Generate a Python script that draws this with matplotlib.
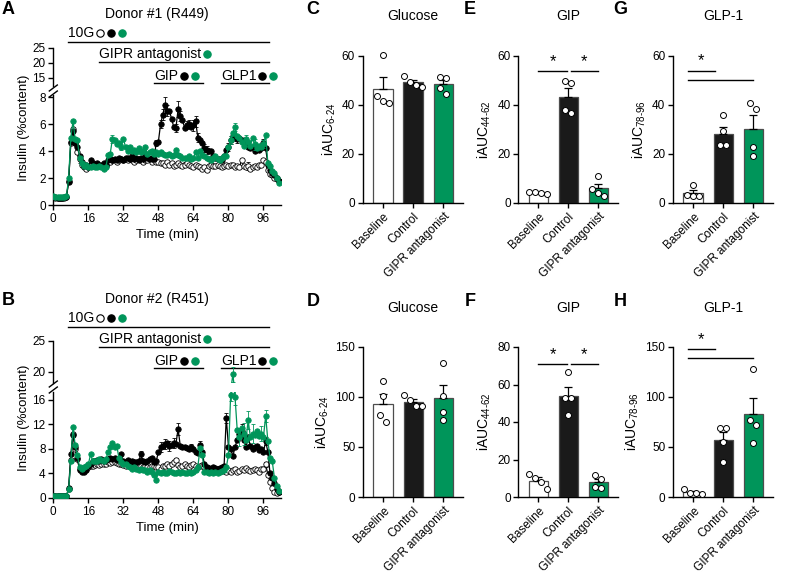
import numpy as np
import matplotlib
matplotlib.use('Agg')
import matplotlib.pyplot as plt
import matplotlib.transforms as mtransforms
from matplotlib.lines import Line2D

plt.rcParams['font.family'] = ['Liberation Sans', 'DejaVu Sans']
plt.rcParams['mathtext.fontset'] = 'custom'
plt.rcParams['mathtext.rm'] = 'Liberation Sans'
plt.rcParams['mathtext.default'] = 'regular'
plt.rcParams['axes.linewidth'] = 1.0

GREEN = '#00955a'
W, H = 787, 577

# ---------------- perifusion traces (insulin, %content), one point per minute ----------------
a_base = [0.6, 0.55, 0.55, 0.55, 0.55, 0.55, 0.6, 1.8, 4.6, 5.6,
          4.6, 3.9, 3.4, 3.0, 2.8, 2.7, 2.8, 3.0, 2.9, 2.9,
          3.0, 2.9, 2.9, 3.0, 2.9, 3.2, 3.2, 3.3, 3.3, 3.2,
          3.3, 3.4, 3.3, 3.4, 3.3, 3.4, 3.3, 3.2, 3.3, 3.4,
          3.3, 3.2, 3.3, 3.3, 3.4, 3.2, 3.3, 3.2, 3.2, 3.1,
          3.1, 3.0, 3.2, 3.0, 3.1, 2.9, 3.0, 3.1, 3.0, 2.9,
          3.0, 3.1, 3.0, 2.9, 2.8, 3.0, 2.9, 2.8, 2.7, 2.8,
          2.6, 2.9, 3.0, 2.9, 2.9, 3.0, 2.9, 2.8, 2.9, 3.0,
          2.9, 3.0, 3.0, 2.8, 2.9, 2.8, 3.3, 2.9, 2.8, 2.9,
          2.7, 2.8, 2.9, 2.8, 3.0, 3.0, 3.3, 3.2, 2.6, 2.3,
          2.2, 2.0, 1.9, 1.8]
a_ctrl = [0.6, 0.6, 0.55, 0.55, 0.55, 0.6, 0.6, 1.7, 4.7, 5.5,
          4.6, 4.3, 3.6, 3.2, 2.9, 3.0, 2.8, 3.3, 3.1, 3.0,
          3.1, 3.0, 3.0, 3.1, 3.0, 3.3, 3.4, 3.3, 3.4, 3.3,
          3.5, 3.4, 3.3, 3.5, 3.5, 3.4, 3.6, 3.4, 3.5, 3.3,
          3.5, 3.4, 3.6, 3.5, 3.4, 3.5, 3.4, 4.6, 4.7, 6.0,
          6.7, 7.4, 7.0, 7.0, 6.4, 5.8, 5.7, 7.1, 6.6, 6.3,
          5.7, 5.9, 6.0, 5.8, 5.9, 6.2, 5.0, 4.8, 4.6, 4.2,
          4.1, 4.0, 4.0, 3.6, 3.5, 3.4, 3.4, 3.3, 3.6, 4.1,
          4.3, 4.8, 5.1, 5.0, 4.9, 5.0, 4.8, 4.6, 4.6, 4.3,
          4.2, 4.3, 4.0, 4.3, 4.1, 4.2, 4.6, 4.2, 3.0, 2.6,
          2.4, 2.2, 2.0, 1.8]
a_ant = [0.65, 0.6, 0.6, 0.6, 0.6, 0.6, 0.65, 2.0, 5.0, 6.2,
         4.9, 4.8, 3.5, 3.1, 2.9, 3.0, 2.8, 2.8, 2.9, 2.8,
         2.8, 2.9, 2.8, 2.7, 2.8, 3.7, 3.8, 4.9, 4.8, 4.5,
         4.6, 4.3, 4.9, 4.3, 4.0, 4.3, 4.0, 4.1, 3.9, 4.2,
         3.9, 4.0, 4.3, 3.8, 3.9, 4.0, 3.8, 3.9, 3.8, 3.9,
         3.8, 3.7, 3.7, 3.8, 3.6, 3.7, 4.1, 3.7, 3.6, 3.5,
         3.5, 3.5, 3.6, 3.4, 3.5, 3.9, 3.5, 4.0, 3.7, 3.6,
         3.5, 3.4, 3.3, 3.5, 3.6, 3.4, 3.3, 3.5, 3.6, 3.6,
         4.3, 4.8, 5.3, 5.8, 5.1, 5.0, 4.7, 4.4, 4.9, 4.7,
         4.4, 5.0, 4.5, 4.2, 4.4, 4.3, 4.5, 5.2, 3.1, 2.9,
         2.5, 2.4, 2.0, 1.6]

b_base = [0.3, 0.3, 0.3, 0.3, 0.3, 0.3, 0.3, 1.5, 6.2, 10.5,
          8.0, 6.3, 4.7, 4.5, 4.6, 4.8, 5.0, 5.2, 5.3, 5.4,
          5.5, 5.4, 5.6, 5.5, 5.6, 5.8, 5.7, 5.9, 5.8, 5.7,
          5.6, 5.5, 5.4, 5.3, 5.5, 5.2, 5.4, 5.3, 5.2, 5.1,
          5.3, 5.0, 5.2, 5.1, 5.0, 5.2, 5.3, 5.1, 5.0, 4.8,
          5.3, 5.2, 5.6, 5.3, 5.5, 5.8, 6.2, 5.4, 5.0, 5.3,
          5.5, 5.2, 5.0, 5.4, 5.6, 5.2, 5.0, 5.3, 5.4, 5.1,
          4.8, 4.7, 4.6, 4.5, 4.5, 4.7, 4.5, 4.4, 4.5, 4.3,
          4.6, 4.2, 4.5, 4.8, 4.3, 4.4, 4.7, 4.6, 4.9, 4.5,
          4.4, 4.6, 4.8, 4.5, 4.3, 4.7, 4.8, 5.5, 3.8, 2.6,
          1.6, 0.9, 0.8, 1.0]
b_ctrl = [0.3, 0.3, 0.3, 0.3, 0.3, 0.3, 0.3, 1.6, 7.2, 10.3,
          8.3, 6.5, 4.6, 4.3, 4.3, 4.6, 5.2, 5.6, 6.0, 6.1,
          6.2, 6.0, 6.3, 6.1, 6.2, 6.4, 6.5, 6.3, 6.6, 6.2,
          6.4, 7.1, 6.0, 5.9, 6.2, 5.8, 6.0, 5.9, 5.8, 6.0,
          7.1, 6.0, 5.8, 6.1, 6.4, 6.6, 5.9, 6.0, 7.5, 8.3,
          8.5, 8.8, 9.0, 8.5, 8.6, 9.0, 8.8, 11.3, 8.5, 8.3,
          8.3, 8.2, 8.0, 8.3, 8.0, 7.5, 7.3, 8.7, 7.5, 5.5,
          5.0, 4.9, 4.8, 5.0, 4.9, 4.8, 4.9, 5.0, 5.2, 13.1,
          8.4, 8.0, 6.8, 8.3, 9.5, 10.5, 11.0, 9.5, 8.3, 10.0,
          8.5, 8.0, 8.3, 8.5, 7.8, 8.0, 7.5, 9.3, 7.5, 4.0,
          3.3, 2.5, 1.5, 1.0]
b_ant = [0.3, 0.3, 0.3, 0.3, 0.3, 0.3, 0.3, 1.5, 6.0, 11.6,
         8.6, 7.0, 5.0, 4.8, 5.0, 5.3, 5.5, 7.1, 6.0, 6.1,
         6.0, 6.3, 6.2, 6.1, 6.3, 7.5, 8.3, 9.0, 8.3, 8.5,
         6.5, 5.8, 5.6, 5.5, 5.3, 5.0, 4.8, 5.0, 4.7, 4.6,
         4.8, 4.5, 4.6, 4.3, 4.5, 4.2, 3.8, 3.0, 4.2, 4.0,
         4.3, 4.1, 4.0, 4.4, 4.2, 4.0, 4.1, 4.3, 4.0, 4.2,
         4.0, 4.1, 4.3, 4.0, 4.2, 4.5, 5.0, 8.1, 7.0, 4.3,
         4.2, 4.0, 4.3, 4.1, 4.2, 4.0, 4.3, 4.4, 4.5, 5.0,
         7.0, 16.8, 19.6, 16.5, 11.1, 10.0, 11.5, 10.5, 9.5, 12.7,
         10.0, 10.5, 10.3, 11.0, 10.2, 10.5, 10.0, 13.4, 9.3, 6.5,
         6.0, 3.3, 2.0, 1.2]

# visible SEM bars (index of time point, SEM)
a_ctrl_err_idx = [47, 49, 50, 51, 52, 56, 57, 58, 61, 62, 64, 65, 66, 69, 70, 80, 81, 84, 86, 96]
a_ctrl_err = [0.2, 0.3, 0.4, 0.6, 0.4, 0.3, 0.6, 0.4, 0.3, 0.3, 0.4, 0.4, 0.3, 0.3, 0.3, 0.3, 0.3, 0.3, 0.2, 0.3]
a_ant_err_idx = [27, 31, 81, 83, 88, 92, 96]
a_ant_err = [0.3, 0.2, 0.3, 0.3, 0.3, 0.4, 0.3]
a_base_err_idx = [12, 60, 69, 89]
a_base_err = [0.3, 0.2, 0.2, 0.3]
b_ctrl_err_idx = [40, 49, 51, 53, 55, 57, 63, 67, 79, 86, 97]
b_ctrl_err = [0.5, 0.8, 0.8, 0.8, 0.8, 1.0, 0.5, 0.6, 0.8, 1.0, 0.6]
b_ant_err_idx = [81, 82, 83, 85, 87, 89, 91, 95, 97]
b_ant_err = [1.0, 1.2, 1.3, 1.5, 1.8, 1.5, 1.5, 1.2, 1.0]
b_base_err_idx = [56, 97]
b_base_err = [0.4, 0.4]

time_ticks = [0, 16, 32, 48, 64, 80, 96]

# treatment windows (min)
win_10g = (6.7, 98.5)
win_gipr = (21.0, 98.5)
win_gip = (46.0, 68.3)
win_glp1 = (76.5, 98.5)

# ---------------- iAUC per donor (n = 4) ----------------
groups = ['Baseline', 'Control', 'GIPR antagonist']
c_vals = [[60.5, 43.5, 41.0, 41.5], [52.0, 49.5, 48.0, 47.5], [51.0, 51.5, 47.0, 44.5]]
e_vals = [[4.5, 4.3, 4.0, 3.5], [49.9, 48.9, 38.0, 36.6], [11.0, 5.6, 2.9, 4.2]]
g_vals = [[7.3, 3.2, 2.8, 3.0], [36.0, 29.5, 23.5, 23.5], [41.0, 38.5, 23.0, 19.0]]
d_vals = [[116, 101, 82, 75], [97, 102, 91, 91], [134, 101, 85, 77]]
f_vals = [[12.5, 10.0, 8.0, 4.5], [66.5, 53.0, 53.0, 44.0], [12.0, 9.5, 5.0, 5.5]]
h_vals = [[8.5, 4.0, 4.0, 3.0], [69, 69, 55, 35], [128, 77, 72, 54]]

fig = plt.figure(figsize=(W / 100, H / 100), dpi=100)


def px_axes(x0, y_top, x1, y_bot):
    return fig.add_axes([x0 / W, 1 - y_bot / H, (x1 - x0) / W, (y_bot - y_top) / H])


def fy(y_px):
    return 1 - y_px / H


def plot_traces(ax, base, ctrl, ant, errs):
    t = np.arange(len(base))
    styles = [(base, 'white', 'k', 'k', 2), (ctrl, 'k', 'k', 'k', 3), (ant, GREEN, GREEN, GREEN, 4)]
    for (y, fc, ec, lc, z), (idx, e) in zip(styles, errs):
        y = np.array(y)
        ax.errorbar(np.array(idx), y[idx], yerr=e, fmt='none', ecolor=lc,
                    elinewidth=0.6, capsize=1.5, capthick=0.6, zorder=z)
        ax.plot(t, y, '-', color=lc, lw=0.9, zorder=z)
        ax.plot(t, y, 'o', mfc=fc, mec=ec, ms=3.9, mew=0.6, zorder=z)


def style_time_axes(lo, hi, lo_ylim, hi_ylim, lo_ticks, hi_ticks):
    for ax in (lo, hi):
        ax.set_xlim(0, 104)
        ax.spines['top'].set_visible(False)
        ax.spines['right'].set_visible(False)
        ax.tick_params(direction='out', length=3.5, width=1, labelsize=8.5, pad=2)
    lo.set_ylim(*lo_ylim)
    hi.set_ylim(*hi_ylim)
    lo.set_yticks(lo_ticks)
    hi.set_yticks(hi_ticks)
    lo.set_xticks(time_ticks)
    lo.set_xlabel('Time (min)', fontsize=9.5, labelpad=3)
    hi.spines['bottom'].set_visible(False)
    hi.tick_params(axis='x', bottom=False, labelbottom=False)
    hi.patch.set_alpha(0)


def break_mark(x_px, y_px):
    for dy in (-3, 3):
        fig.add_artist(Line2D([(x_px - 4) / W, (x_px + 4) / W],
                              [fy(y_px + dy + 3), fy(y_px + dy - 3)],
                              color='k', lw=1))


def treatment(ax, label, win, y_text, y_line, dots):
    trans = mtransforms.blended_transform_factory(ax.transData, fig.transFigure)
    ax.plot(list(win), [fy(y_line), fy(y_line)], transform=trans, color='k', lw=1, clip_on=False)
    txt = ax.text(win[0], fy(y_text), label, transform=trans, ha='left', va='center', fontsize=10)
    r = fig.canvas.get_renderer()
    bb = txt.get_window_extent(renderer=r)
    x = bb.x1 + 6
    for fc in dots:
        ec = 'k' if fc == 'white' else fc
        fig.add_artist(Line2D([x / W], [fy(y_text)], marker='o', ms=5.3, mfc=fc, mec=ec, mew=0.8))
        x += 11


def annotate_time_panel(lo, ys):
    treatment(lo, '10G', win_10g, ys[0], ys[1], ['white', 'k', GREEN])
    treatment(lo, 'GIPR antagonist', win_gipr, ys[2], ys[3], [GREEN])
    treatment(lo, 'GIP', win_gip, ys[4], ys[5], ['k', GREEN])
    treatment(lo, 'GLP1', win_glp1, ys[4], ys[5], ['k', GREEN])


# panel A
a_lo = px_axes(53.3, 95, 281, 205)
a_hi = px_axes(53.3, 48, 281, 86)
for ax in (a_lo, a_hi):
    plot_traces(ax, a_base, a_ctrl, a_ant,
                [(a_base_err_idx, a_base_err), (a_ctrl_err_idx, a_ctrl_err), (a_ant_err_idx, a_ant_err)])
style_time_axes(a_lo, a_hi, (0, 8.15), (12.3, 25), [0, 2, 4, 6, 8], [15, 20, 25])
break_mark(53.3, 91)
annotate_time_panel(a_lo, [33.3, 42, 54, 62, 76, 83])
fig.text(24 / W, fy(128), 'Insulin (%content)', rotation=90, ha='center', va='center', fontsize=9.5)
fig.text(157 / W, fy(14), 'Donor #1 (R449)', ha='center', va='center', fontsize=10)

# panel B
b_lo = px_axes(53.3, 392, 281, 498)
b_hi = px_axes(53.3, 341, 281, 383)
for ax in (b_lo, b_hi):
    plot_traces(ax, b_base, b_ctrl, b_ant,
                [(b_base_err_idx, b_base_err), (b_ctrl_err_idx, b_ctrl_err), (b_ant_err_idx, b_ant_err)])
style_time_axes(b_lo, b_hi, (0, 17.3), (18.2, 25), [0, 4, 8, 12, 16], [20, 25])
break_mark(53.3, 387)
annotate_time_panel(b_lo, [318, 326.7, 339, 346.7, 361, 368.3])
fig.text(24 / W, fy(418), 'Insulin (%content)', rotation=90, ha='center', va='center', fontsize=9.5)
fig.text(157 / W, fy(299), 'Donor #2 (R451)', ha='center', va='center', fontsize=10)


# bar panels
def jitter(vals, span):
    vals = np.asarray(vals, dtype=float)
    order = np.argsort(-vals)
    offs = np.zeros(len(vals))
    clusters = [[order[0]]]
    for i in order[1:]:
        if abs(vals[clusters[-1][-1]] - vals[i]) < 0.05 * span:
            clusters[-1].append(i)
        else:
            clusters.append([i])
    for c in clusters:
        n = len(c)
        for k, i in enumerate(c):
            offs[i] = (k - (n - 1) / 2) * 0.2
    return offs


def bar_panel(box, vals, ylim, yticks, ylabel):
    ax = px_axes(*box)
    x = np.arange(3)
    means = [np.mean(v) for v in vals]
    sems = [np.std(v, ddof=1) / np.sqrt(len(v)) for v in vals]
    ax.bar(x, means, width=0.65, color=['white', '#1a1a1a', GREEN],
           edgecolor='#4d4d4d', linewidth=0.9, zorder=2)
    ax.errorbar(x, means, yerr=[np.zeros(3), sems], fmt='none', ecolor='k',
                elinewidth=0.9, capsize=3, capthick=0.9, zorder=3)
    for xi, v in zip(x, vals):
        ax.plot(xi + jitter(v, ylim[1]), v, 'o', mfc='white', mec='k', ms=4.3, mew=0.7,
                zorder=4, clip_on=False)
    ax.set_xlim(-0.67, 2.65)
    ax.set_ylim(*ylim)
    ax.set_yticks(yticks)
    ax.set_xticks(x)
    ax.set_xticklabels(groups, rotation=45, ha='right', rotation_mode='anchor', fontsize=9.3)
    ax.set_ylabel(ylabel, fontsize=10, labelpad=3)
    ax.spines['top'].set_visible(False)
    ax.spines['right'].set_visible(False)
    ax.tick_params(direction='out', length=3.5, width=1, labelsize=8.5, pad=2)
    return ax


def sig(ax, lines, stars):
    for x0, x1, y in lines:
        ax.plot([x0, x1], [y, y], color='k', lw=1, clip_on=False)
    for xs, ys in stars:
        ax.text(xs, ys, '*', ha='center', va='center', fontsize=12, clip_on=False)


ax_c = bar_panel((362.7, 56, 463, 203), c_vals, (0, 60), [0, 20, 40, 60], r'iAUC$_{\text{6-24}}$')
ax_e = bar_panel((518.3, 56, 618, 203), e_vals, (0, 60), [0, 20, 40, 60], r'iAUC$_{\text{44-62}}$')
ax_g = bar_panel((673, 56, 773, 203), g_vals, (0, 60), [0, 20, 40, 60], r'iAUC$_{\text{78-96}}$')
ax_d = bar_panel((363, 347, 463, 497), d_vals, (0, 150), [0, 50, 100, 150], r'iAUC$_{\text{6-24}}$')
ax_f = bar_panel((518.3, 347, 618, 497), f_vals, (0, 80), [0, 20, 40, 60, 80], r'iAUC$_{\text{44-62}}$')
ax_h = bar_panel((673, 347, 773, 497), h_vals, (0, 150), [0, 50, 100, 150], r'iAUC$_{\text{78-96}}$')

sig(ax_e, [(0.0, 0.95, 54), (1.07, 2.0, 54)], [(0.48, 57.5), (1.53, 57.5)])
sig(ax_f, [(0.0, 0.95, 71), (1.07, 2.0, 71)], [(0.48, 76), (1.53, 76)])
sig(ax_g, [(-0.18, 0.73, 54), (-0.18, 1.97, 50.2)], [(0.27, 58)])
sig(ax_h, [(-0.18, 0.73, 147.7), (-0.18, 1.97, 138.7)], [(0.27, 157)])

# titles
for ax, title, yp in [(ax_c, 'Glucose', 16), (ax_e, 'GIP', 16), (ax_g, 'GLP-1', 16),
                      (ax_d, 'Glucose', 308), (ax_f, 'GIP', 308), (ax_h, 'GLP-1', 308)]:
    pos = ax.get_position()
    fig.text(pos.x0 + pos.width / 2, fy(yp), title, ha='center', va='center', fontsize=10)

# panel letters
for letter, xp, yp in [('A', 8, 10), ('B', 8, 300), ('C', 313, 9), ('E', 470, 9), ('G', 620, 9),
                       ('D', 313, 301), ('F', 470, 301), ('H', 620, 301)]:
    fig.text(xp / W, fy(yp), letter, ha='center', va='center', fontsize=13, fontweight='bold')

fig.savefig('out.png', dpi=100)
